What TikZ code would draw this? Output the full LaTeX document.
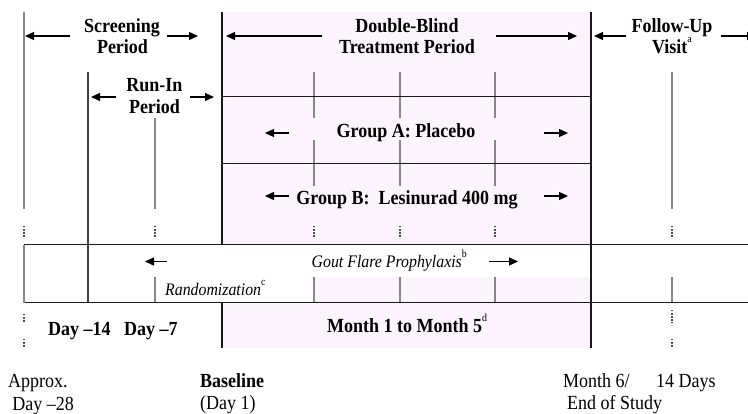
\documentclass[tikz,border=0pt]{standalone}
\usepackage{fontspec}
\setmainfont{Liberation Serif}[FakeStretch=0.9]
\usetikzlibrary{arrows.meta}
\definecolor{pinkbg}{RGB}{252,244,252}
\definecolor{gline}{RGB}{135,135,135}
\newcommand\supmark[1]{\raisebox{0.55em}{\fontsize{11}{11}\selectfont\mdseries\upshape #1}}
\begin{document}
\begin{tikzpicture}[x=1pt,y=-1pt,
  bl/.style={font=\fontsize{20}{21}\selectfont\bfseries, inner sep=0pt},
  rg/.style={font=\fontsize{20}{21}\selectfont, inner sep=0pt},
  it/.style={font=\fontsize{17.6}{19}\selectfont\itshape, inner sep=0pt},
  arr/.style={draw=black, line width=1.3pt, -{Triangle[length=9pt,width=8pt]}},
  gl/.style={draw=gline, line width=1.3pt},
  dk/.style={draw=black!75, line width=1.3pt},
  bk/.style={draw=black!90, line width=1.3pt},
  dt/.style={draw=black!70, line width=1.6pt, dash pattern=on 1.4pt off 1.7pt},
]
\useasboundingbox (0,0) rectangle (748,413);
% pink background areas
\fill[pinkbg] (222,12) rectangle (591,244.5);
\fill[pinkbg] (315,277) rectangle (591,302.5);
\fill[pinkbg] (222,302.5) rectangle (591,348);

% long vertical lines
\draw[gl] (24,12) -- (24,209);
\draw[dk] (88,72) -- (88,302.5);
\draw[gl] (155,118) -- (155,209);
\draw[bk] (222,12) -- (222,244.5);
\draw[bk] (222,302.5) -- (222,348);
\draw[bk] (591,12) -- (591,348);
\draw[gl] (672,72) -- (672,209);
% short segments in treatment period
\foreach \x in {314,400,495}{
  \draw[gl] (\x,72) -- (\x,118);
  \draw[gl] (\x,140) -- (\x,186);
  \draw[gl] (\x,277) -- (\x,302.5);
}
\draw[gl] (155,277) -- (155,302.5);
\draw[gl] (672,277) -- (672,302.5);
% dotted ticks
\foreach \x in {24,155,314,400,495,672}{
  \draw[dt] (\x,226) -- (\x,237);
}
\draw[dt] (24,314) -- (24,323);
\draw[dt] (24,339) -- (24,348);
\draw[dt] (672,310) -- (672,323);
\draw[dt] (672,339) -- (672,348);
% horizontal group lines
\draw[bk] (222,96.5) -- (591,96.5);
\draw[bk] (222,163.5) -- (591,163.5);
% prophylaxis box
\draw[bk] (24,244.5) -- (752,244.5);
\draw[bk] (24,302.5) -- (752,302.5);
\draw[gl] (24,244.5) -- (24,302.5);

% headers
\node[bl, anchor=base] (scr1) at (122,32) {Screening};
\node[bl, anchor=base] (scr2) at (122.5,53) {Period};
\node[bl, anchor=base] (dbl1) at (407,32) {Double-Blind};
\node[bl, anchor=base] (dbl2) at (407,53) {Treatment Period};
\node[bl, anchor=base] (fu1) at (672,32) {Follow-Up};
\node[bl, anchor=base] (fu2) at (672,53) {Visit\supmark{a}};
\node[bl, anchor=base] (ri1) at (154.5,91) {Run-In};
\node[bl, anchor=base] (ri2) at (154.5,113) {Period};
\node[bl, anchor=base] (ga) at (406,137) {Group A: Placebo};
\node[bl, anchor=base] (gb) at (407,204) {Group B:\ \ Lesinurad 400 mg};
\node[it, anchor=base west] (gout) at (311.5,267) {Gout Flare Prophylaxis\supmark{b}};
\node[it, anchor=base west] (rand) at (165,295) {Randomization\supmark{c}};
\node[bl, anchor=base west] (d14) at (48,335) {Day –14};
\node[bl, anchor=base west] (d7) at (124,335) {Day –7};
\node[bl, anchor=base west] (m15) at (327,332) {Month 1 to Month 5\supmark{d}};
\node[rg, anchor=base west] (ap1) at (8,387) {Approx.};
\node[rg, anchor=base west] (ap2) at (12.3,410) {Day –28};
\node[bl, anchor=base west] (bs1) at (200,387) {Baseline};
\node[rg, anchor=base west] (bs2) at (200,409) {(Day 1)};
\node[rg, anchor=base west] (m61) at (563,387) {Month 6/};
\node[rg, anchor=base west] (m62) at (567,409) {End of Study};
\node[rg, anchor=base west] (d14b) at (656,387) {14 Days};

% arrows
\coordinate (a1s) at (70,36);  \coordinate (a1e) at (25,36);
\coordinate (a2s) at (167,36); \coordinate (a2e) at (198,36);
\coordinate (a3s) at (322,36); \coordinate (a3e) at (226,36);
\coordinate (a4s) at (496,36); \coordinate (a4e) at (577,36);
\coordinate (a5s) at (626,36); \coordinate (a5e) at (594,36);
\coordinate (a6s) at (721,36); \coordinate (a6e) at (756,36);
\coordinate (b1s) at (116,97); \coordinate (b1e) at (91,97);
\coordinate (b2s) at (190,97); \coordinate (b2e) at (214,97);
\coordinate (c1s) at (289,133); \coordinate (c1e) at (265,133);
\coordinate (c2s) at (544,133); \coordinate (c2e) at (568,133);
\coordinate (d1s) at (289,196); \coordinate (d1e) at (265,196);
\coordinate (d2s) at (544,196); \coordinate (d2e) at (568,196);
\coordinate (e1s) at (167,261.5); \coordinate (e1e) at (145,261.5);
\coordinate (e2s) at (489,261.5); \coordinate (e2e) at (518,261.5);
\foreach \s/\e in {a1s/a1e,a2s/a2e,a3s/a3e,a4s/a4e,a5s/a5e,a6s/a6e,b1s/b1e,b2s/b2e,c1s/c1e,c2s/c2e,d1s/d1e,d2s/d2e,e1s/e1e,e2s/e2e}{
  \draw[arr] (\s) -- (\e);
}
\end{tikzpicture}
\end{document}
